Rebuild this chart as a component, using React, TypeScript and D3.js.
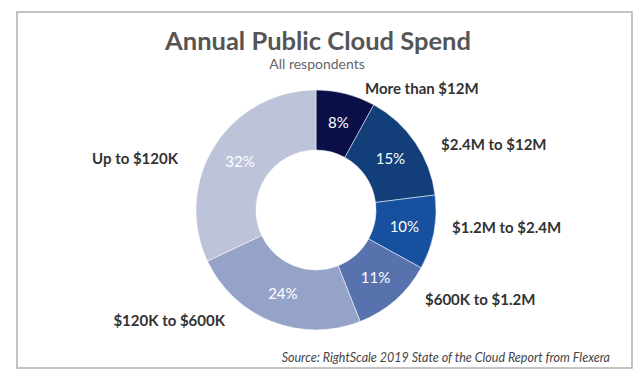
import React from "react";
import * as d3 from "d3";

const categories = ["More than $12M", "$2.4M to $12M", "$1.2M to $2.4M", "$600K to $1.2M", "$120K to $600K", "Up to $120K"];
const values = [8, 15, 10, 11, 24, 32];
const colors = ["#0b0f47", "#123e7a", "#16509e", "#5872ad", "#96a3c8", "#bdc4da"];
const labelPos: [number, number, string][] = [
  [365, 94, "start"],
  [441, 150, "start"],
  [452, 233, "start"],
  [425, 305, "start"],
  [225, 326, "end"],
  [178, 164, "end"],
];

export default function App() {
  const W = 640, H = 379;
  const cx = 316, cy = 210, rO = 120, rI = 60;
  const pie = d3.pie<number>().sort(null).value((d) => d);
  const arcs = pie(values);
  const arc = d3.arc<d3.PieArcDatum<number>>().innerRadius(rI).outerRadius(rO);
  const font = "Lato, 'Open Sans', sans-serif";
  return (
    <svg width={W} height={H} style={{ position: "absolute", left: 0, top: 0, background: "#fff" }}>
      <rect x={17} y={12} width={615} height={356} fill="#fff" stroke="#b0b0b0" strokeWidth={1.5} />
      <text x={318} y={50} textAnchor="middle" fontFamily={font} fontWeight="bold" fontSize={25.5} fill="#555">
        Annual Public Cloud Spend
      </text>
      <text x={317} y={69} textAnchor="middle" fontFamily={font} fontSize={14} fill="#666">
        All respondents
      </text>
      <g transform={`translate(${cx},${cy})`}>
        {arcs.map((a, i) => (
          <path key={i} d={arc(a) || ""} fill={colors[i]} stroke="#fff" strokeWidth={0.5} />
        ))}
        {arcs.map((a, i) => {
          const [x, y] = arc.centroid(a);
          return (
            <text key={i} x={x} y={y + 5} textAnchor="middle" fontFamily={font} fontSize={15} fill="#fff">
              {values[i]}%
            </text>
          );
        })}
      </g>
      {categories.map((c, i) => (
        <text key={i} x={labelPos[i][0]} y={labelPos[i][1]} textAnchor={labelPos[i][2] as any} fontFamily={font} fontWeight="bold" fontSize={15} fill="#333">
          {c}
        </text>
      ))}
      <text x={610} y={362} textAnchor="end" fontFamily={font} fontStyle="italic" fontSize={12.5} fill="#444">
        Source: RightScale 2019 State of the Cloud Report from Flexera
      </text>
    </svg>
  );
}
